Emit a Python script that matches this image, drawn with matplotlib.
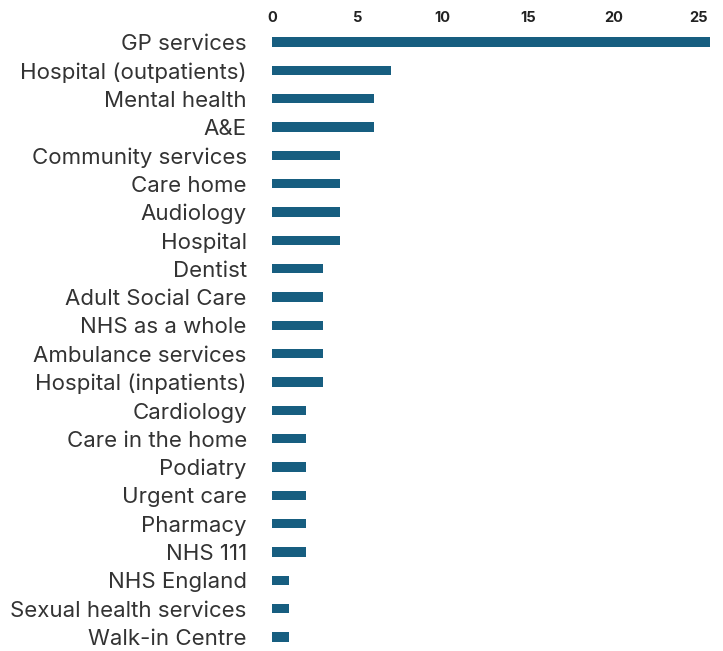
import matplotlib
matplotlib.use("Agg")
import matplotlib.pyplot as plt

# categories and counts
services = ["GP services", "Hospital (outpatients)", "Mental health", "A&E",
            "Community services", "Care home", "Audiology", "Hospital",
            "Dentist", "Adult Social Care", "NHS as a whole",
            "Ambulance services", "Hospital (inpatients)", "Cardiology",
            "Care in the home", "Podiatry", "Urgent care", "Pharmacy",
            "NHS 111", "NHS England", "Sexual health services",
            "Walk-in Centre"]
counts = [26, 7, 6, 6, 4, 4, 4, 4, 3, 3, 3, 3, 3, 2, 2, 2, 2, 2, 2, 1, 1, 1]
xticks = [0, 5, 10, 15, 20, 25]

plt.rcParams['font.family'] = ['Inter', 'DejaVu Sans']

fig = plt.figure(figsize=(7.23, 6.51), dpi=100)
ax = fig.add_axes([0.376, 0.0, 0.606, 0.957])

ypos = list(range(len(services)))
ax.barh(ypos, counts, height=0.33, color="#175e80")

# GP bar runs off the right edge, as in the reference
ax.set_xlim(0, 25.65)
ax.set_ylim(len(services) - 0.5, -0.5)
ax.set_yticks(ypos)
ax.set_yticklabels(services, fontsize=16, color="#333333")
ax.set_xticks(xticks)
ax.set_xticklabels([str(t) for t in xticks], fontsize=10.5, fontweight="bold",
                   color="#222222")
ax.xaxis.tick_top()
ax.tick_params(axis="x", length=0, pad=2)
ax.tick_params(axis="y", length=0, pad=18)
for s in ax.spines.values():
    s.set_visible(False)

fig.savefig("out.png", dpi=100)
